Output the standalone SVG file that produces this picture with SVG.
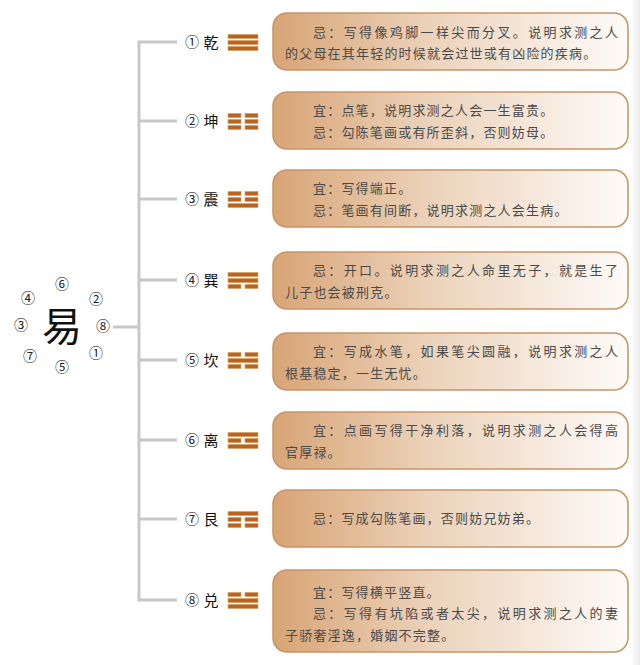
<svg xmlns="http://www.w3.org/2000/svg" width="640" height="665" viewBox="0 0 640 665">
<defs>
<linearGradient id="boxg" x1="0" y1="0" x2="1" y2="0">
<stop offset="0" stop-color="#d8a475"/>
<stop offset="0.45" stop-color="#ecd3bb"/>
<stop offset="1" stop-color="#fefbf8"/>
</linearGradient>
<linearGradient id="edge" x1="0" y1="0" x2="1" y2="0">
<stop offset="0" stop-color="#ffffff"/>
<stop offset="1" stop-color="#ececec"/>
</linearGradient>
<g id="bar"><rect x="0" y="0" width="30" height="4"/></g>
<g id="brk"><rect x="0" y="0" width="13" height="4"/><rect x="17" y="0" width="13" height="4"/></g>
</defs>
<style>
.box{fill:url(#boxg);stroke:#c79468;stroke-width:1.5}
.t{font-family:"Noto Sans CJK SC","Noto Sans CJK TC",sans-serif;font-size:13px;fill:#4a4a4a;letter-spacing:1.2px}
.j{font-family:"Noto Sans CJK SC","Noto Sans CJK TC",sans-serif;font-size:13px;fill:#4a4a4a}
.lab{font-family:"Noto Sans CJK SC",sans-serif;font-size:15px;fill:#111}
.num{font-family:"Noto Sans CJK SC","DejaVu Sans",sans-serif;font-size:14px;fill:#222}
.tri{fill:#b8641f;stroke:#d99a5f;stroke-width:0.6}
.ln{stroke:#c8c8c8;stroke-width:3;fill:none}
</style>
<rect x="0" y="0" width="640" height="665" fill="#ffffff"/>
<rect x="630" y="0" width="10" height="665" fill="url(#edge)"/>

<g id="connectors">
<path class="ln" d="M177,42 H139 V600 H177"/>
<path class="ln" d="M139,121 H177 M139,199 H177 M139,280 H177 M139,360 H177 M139,440 H177 M139,519 H177"/>
<path class="ln" d="M113,327 H139"/>
</g>

<g id="center">
<text x="62" y="341" text-anchor="middle" font-family="Noto Sans CJK SC, sans-serif" font-size="40" fill="#111">易</text>
<text class="num" x="62" y="289" text-anchor="middle">⑥</text>
<text class="num" x="28" y="303" text-anchor="middle">④</text>
<text class="num" x="96" y="304" text-anchor="middle">②</text>
<text class="num" x="21" y="330" text-anchor="middle">③</text>
<text class="num" x="103" y="331" text-anchor="middle">⑧</text>
<text class="num" x="30" y="361" text-anchor="middle">⑦</text>
<text class="num" x="96" y="358" text-anchor="middle">①</text>
<text class="num" x="62" y="372" text-anchor="middle">⑤</text>
</g>

<g id="n1">
<text class="num" x="192" y="47" text-anchor="middle">①</text>
<text class="lab" x="211" y="47.5" text-anchor="middle">乾</text>
<g class="tri" transform="translate(228,34.5)"><use href="#bar"/><use href="#bar" y="6"/><use href="#bar" y="12"/></g>
<rect class="box" x="273" y="13" width="355" height="57" rx="14"/>
<text class="j" x="313" y="36.5" textLength="305" lengthAdjust="spacing">忌：写得像鸡脚一样尖而分叉。说明求测之人</text>
<text class="t" x="285" y="57.5">的父母在其年轻的时候就会过世或有凶险的疾病。</text>
</g>

<g id="n2">
<text class="num" x="192" y="126" text-anchor="middle">②</text>
<text class="lab" x="211" y="126.5" text-anchor="middle">坤</text>
<g class="tri" transform="translate(228,113.5)"><use href="#brk"/><use href="#brk" y="6"/><use href="#brk" y="12"/></g>
<rect class="box" x="273" y="92" width="355" height="57" rx="14"/>
<text class="t" x="313" y="114.5">宜：点笔，说明求测之人会一生富贵。</text>
<text class="t" x="313" y="136.5">忌：勾陈笔画或有所歪斜，否则妨母。</text>
</g>

<g id="n3">
<text class="num" x="192" y="204" text-anchor="middle">③</text>
<text class="lab" x="211" y="204.5" text-anchor="middle">震</text>
<g class="tri" transform="translate(228,191.5)"><use href="#brk"/><use href="#brk" y="6"/><use href="#bar" y="12"/></g>
<rect class="box" x="273" y="170" width="355" height="57" rx="14"/>
<text class="t" x="313" y="193">宜：写得端正。</text>
<text class="t" x="313" y="215">忌：笔画有间断，说明求测之人会生病。</text>
</g>

<g id="n4">
<text class="num" x="192" y="285" text-anchor="middle">④</text>
<text class="lab" x="211" y="285.5" text-anchor="middle">巽</text>
<g class="tri" transform="translate(228,272.5)"><use href="#bar"/><use href="#bar" y="6"/><use href="#brk" y="12"/></g>
<rect class="box" x="273" y="252" width="355" height="57" rx="14"/>
<text class="j" x="313" y="274.5" textLength="305" lengthAdjust="spacing">忌：开口。说明求测之人命里无子，就是生了</text>
<text class="t" x="285" y="296.5">儿子也会被刑克。</text>
</g>

<g id="n5">
<text class="num" x="192" y="365" text-anchor="middle">⑤</text>
<text class="lab" x="211" y="365.5" text-anchor="middle">坎</text>
<g class="tri" transform="translate(228,352.5)"><use href="#brk"/><use href="#bar" y="6"/><use href="#brk" y="12"/></g>
<rect class="box" x="273" y="333" width="355" height="57" rx="14"/>
<text class="j" x="313" y="355.5" textLength="305" lengthAdjust="spacing">宜：写成水笔，如果笔尖圆融，说明求测之人</text>
<text class="t" x="285" y="377.5">根基稳定，一生无忧。</text>
</g>

<g id="n6">
<text class="num" x="192" y="445" text-anchor="middle">⑥</text>
<text class="lab" x="211" y="445.5" text-anchor="middle">离</text>
<g class="tri" transform="translate(228,432.5)"><use href="#bar"/><use href="#brk" y="6"/><use href="#bar" y="12"/></g>
<rect class="box" x="273" y="412" width="355" height="57" rx="14"/>
<text class="j" x="313" y="434.5" textLength="305" lengthAdjust="spacing">宜：点画写得干净利落，说明求测之人会得高</text>
<text class="t" x="285" y="456.5">官厚禄。</text>
</g>

<g id="n7">
<text class="num" x="192" y="524" text-anchor="middle">⑦</text>
<text class="lab" x="211" y="524.5" text-anchor="middle">艮</text>
<g class="tri" transform="translate(228,511.5)"><use href="#bar"/><use href="#brk" y="6"/><use href="#brk" y="12"/></g>
<rect class="box" x="273" y="490" width="355" height="57" rx="14"/>
<text class="t" x="313" y="523">忌：写成勾陈笔画，否则妨兄妨弟。</text>
</g>

<g id="n8">
<text class="num" x="192" y="605" text-anchor="middle">⑧</text>
<text class="lab" x="211" y="605.5" text-anchor="middle">兑</text>
<g class="tri" transform="translate(228,592.5)"><use href="#brk"/><use href="#bar" y="6"/><use href="#bar" y="12"/></g>
<rect class="box" x="273" y="570" width="355" height="82" rx="14"/>
<text class="t" x="313" y="596.5">宜：写得横平竖直。</text>
<text class="j" x="313" y="618" textLength="305" lengthAdjust="spacing">忌：写得有坑陷或者太尖，说明求测之人的妻</text>
<text class="t" x="285" y="639.5">子骄奢淫逸，婚姻不完整。</text>
</g>
</svg>
